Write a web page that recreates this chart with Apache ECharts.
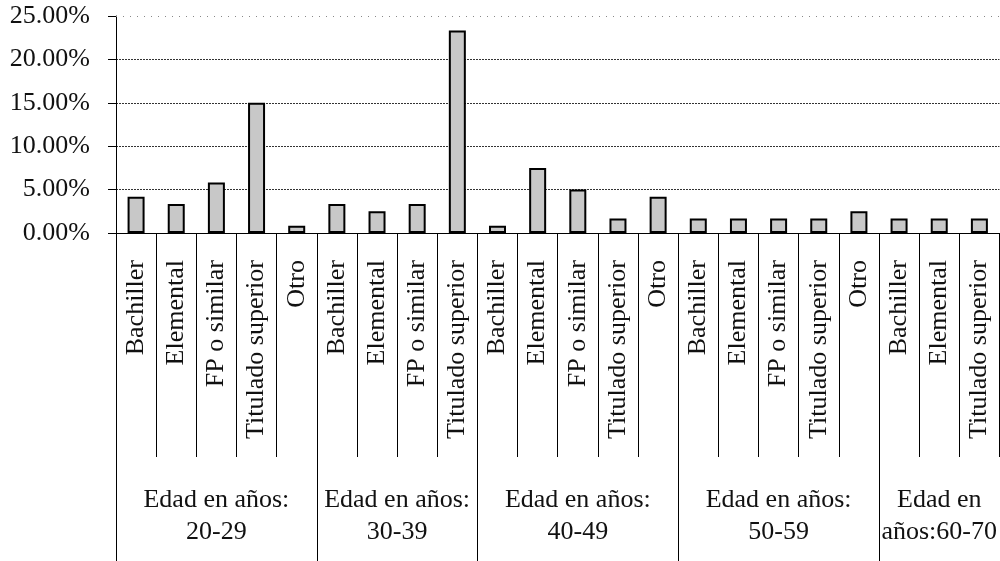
<!DOCTYPE html>
<html>
<head>
<meta charset="utf-8">
<script src="https://cdn.jsdelivr.net/npm/echarts@6/dist/echarts.min.js"></script>
<style>html,body{margin:0;padding:0;background:#fff}#c{width:1000px;height:561px}</style>
</head>
<body>
<div id="c"></div>
<script>
const groupLabels = ['Edad en años:\n20-29', 'Edad en años:\n30-39', 'Edad en años:\n40-49', 'Edad en años:\n50-59', 'Edad en\naños:60-70'];
const g1Categories = ['Bachiller', 'Elemental', 'FP o similar', 'Titulado superior', 'Otro'];
const g2Categories = ['Bachiller', 'Elemental', 'FP o similar', 'Titulado superior'];
const g3Categories = ['Bachiller', 'Elemental', 'FP o similar', 'Titulado superior', 'Otro'];
const g4Categories = ['Bachiller', 'Elemental', 'FP o similar', 'Titulado superior', 'Otro'];
const g5Categories = ['Bachiller', 'Elemental', 'Titulado superior'];
const g1Values = [4.17, 3.33, 5.83, 15.00, 0.83];
const g2Values = [3.33, 2.50, 3.33, 23.33];
const g3Values = [0.83, 7.50, 5.00, 1.67, 4.17];
const g4Values = [1.67, 1.67, 1.67, 1.67, 2.50];
const g5Values = [1.67, 1.67, 1.67];
const yTicks = [0, 5, 10, 15, 20, 25];

const groupCats = [g1Categories, g2Categories, g3Categories, g4Categories, g5Categories];
const groupVals = [g1Values, g2Values, g3Values, g4Values, g5Values];
const categories = [].concat(...groupCats);
const values = [].concat(...groupVals);
const total = categories.length;

// group boundaries and centers (in category units)
const bounds = [0];
const centers = [];
groupCats.forEach(function (g) {
  const start = bounds[bounds.length - 1];
  centers.push(start + g.length / 2);
  bounds.push(start + g.length);
});

const font = '"Liberation Serif", "Times New Roman", serif';
const txt = '#111';

const chart = echarts.init(document.getElementById('c'), null, {renderer: 'canvas'});
chart.setOption({
  animation: false,
  backgroundColor: '#fff',
  grid: {left: 116, top: 16, width: 888, height: 217, containLabel: false},
  xAxis: [
    {
      type: 'category',
      data: categories,
      boundaryGap: true,
      axisLine: {show: true, lineStyle: {color: '#000', width: 1}},
      axisTick: {show: true, interval: 0, length: 224, lineStyle: {color: '#000', width: 1}},
      axisLabel: {
        interval: 0, rotate: 90, margin: 27,
        fontFamily: font, fontSize: 26, color: txt
      },
      splitLine: {show: false}
    },
    {
      type: 'value',
      position: 'bottom',
      min: 0, max: total,
      axisLine: {show: false},
      splitLine: {show: false},
      axisTick: {show: true, customValues: bounds.slice(0, bounds.length - 1), length: 330, inside: false,
        lineStyle: {color: '#000', width: 1}},
      axisLabel: {
        show: true, customValues: centers, margin: 251,
        fontFamily: font, fontSize: 26, color: txt, lineHeight: 32, align: 'center',
        formatter: function (v) {
          const i = centers.indexOf(v);
          return i >= 0 ? groupLabels[i] : '';
        }
      }
    }
  ],
  yAxis: {
    type: 'value',
    min: yTicks[0], max: yTicks[yTicks.length - 1], interval: 5,
    axisLine: {show: true, lineStyle: {color: '#000', width: 1}},
    axisTick: {show: true, length: 8, lineStyle: {color: '#000', width: 1}},
    axisLabel: {
      margin: 26, fontFamily: font, fontSize: 26, color: txt, padding: [5, 0, 0, 0],
      formatter: function (v) { return v.toFixed(2) + '%'; }
    },
    splitLine: {show: true, showMaxLine: false, lineStyle: {color: '#333', type: [2, 1], width: 1}}
  },
  series: [{
    type: 'bar',
    xAxisIndex: 0,
    data: values,
    barWidth: 17,
    itemStyle: {color: '#c8c8c8', borderColor: '#000', borderWidth: 2},
    markLine: {
      silent: true, symbol: 'none', label: {show: false},
      lineStyle: {color: '#888', type: [1, 6], width: 1},
      data: [{yAxis: yTicks[yTicks.length - 1]}]
    }
  }]
});
</script>
</body>
</html>
